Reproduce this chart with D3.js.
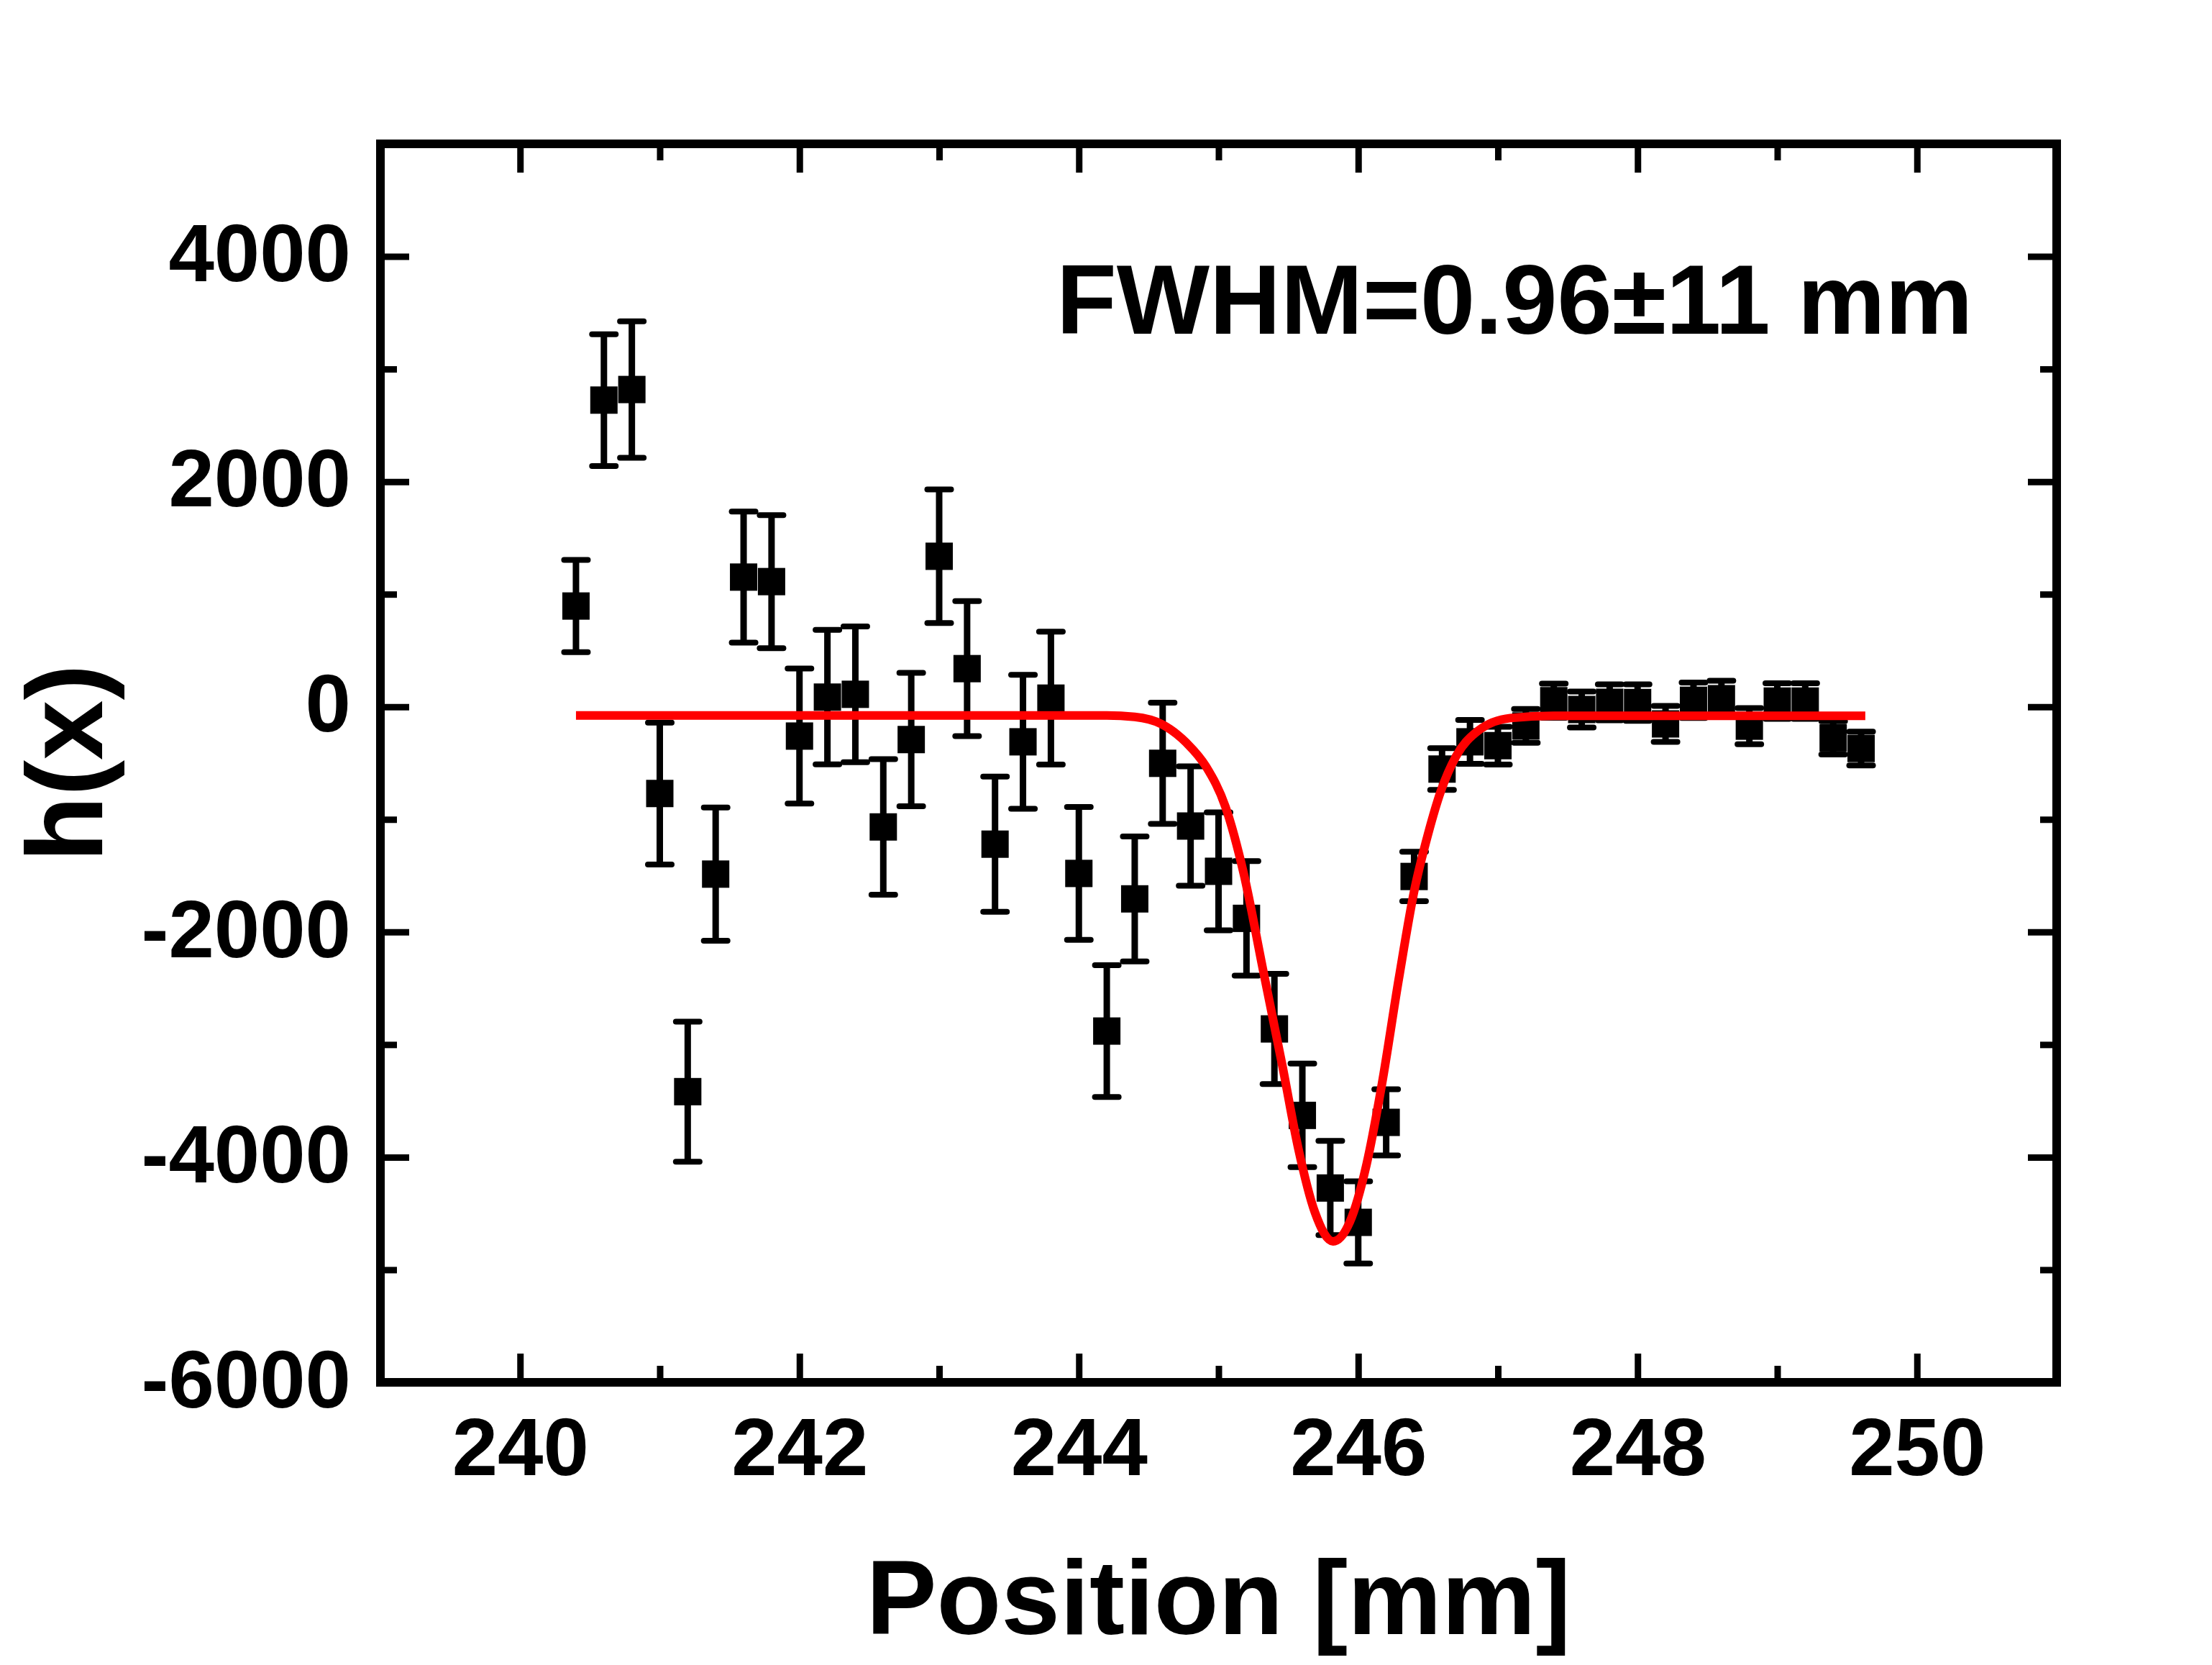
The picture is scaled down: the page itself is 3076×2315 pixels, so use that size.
<!DOCTYPE html>
<html>
<head>
<meta charset="utf-8">
<script src="https://cdn.jsdelivr.net/npm/d3@7"></script>
<style>
  html, body { margin: 0; padding: 0; background: #fff; }
  svg text { font-family: "Liberation Sans", Arial, sans-serif; font-weight: bold; fill: #000; }
</style>
</head>
<body>
<svg id="chart" width="3076" height="2315"></svg>
<script>
// measured points (position in mm, h(x), error)
const positions = [240.4, 240.6, 240.8, 241.0, 241.2, 241.4, 241.6, 241.8, 242.0, 242.2,
  242.4, 242.6, 242.8, 243.0, 243.2, 243.4, 243.6, 243.8, 244.0, 244.2,
  244.4, 244.6, 244.8, 245.0, 245.2, 245.4, 245.6, 245.8, 246.0, 246.2,
  246.4, 246.6, 246.8, 247.0, 247.2, 247.4, 247.6, 247.8, 248.0, 248.2,
  248.4, 248.6, 248.8, 249.0, 249.2, 249.4, 249.6];
const hValues = [895, 2724, 2818, -770, -3418, -1486, 1152, 1112, -260, 86,
  111, -1067, -291, 1337, 339, -1220, -311, 77, -1480, -2880,
  -1706, -502, -1059, -1461, -1879, -2861, -3629, -4274, -4579, -3691,
  -1507, -553, -311, -345, -170, 54, -24, 40, 38, -152,
  58, 72, -172, 51, 51, -276, -370];
const hErrors = [410, 585, 606, 630, 622, 592, 582, 591, 600, 597,
  603, 602, 592, 593, 600, 600, 595, 590, 590, 585,
  555, 538, 530, 524, 508, 490, 460, 418, 365, 294,
  220, 185, 195, 168, 150, 152, 160, 160, 162, 160,
  157, 160, 160, 158, 158, 148, 150];

// fitted curve
const fitX = [240.4, 244.2, 244.4, 244.59, 244.77, 244.91, 245.05, 245.18, 245.32, 245.46,
  245.57, 245.69, 245.82, 245.94, 246.06, 246.17, 246.29, 246.40, 246.50, 246.59,
  246.70, 246.86, 247.09, 247.4, 249.63];
const fitY = [-77, -77, -90, -153, -320, -530, -890, -1480, -2345, -3207,
  -3917, -4490, -4748, -4575, -4062, -3348, -2420, -1640, -1130, -754,
  -440, -211, -100, -80, -80];

const xMajor = [240, 242, 244, 246, 248, 250];
const xMinor = [241, 243, 245, 247, 249];
const yMajor = [-6000, -4000, -2000, 0, 2000, 4000];
const yMinor = [-5000, -3000, -1000, 1000, 3000];

const svg = d3.select("#chart");
const margin = { left: 529, right: 216, top: 200, bottom: 393 };
const W = +svg.attr("width"), H = +svg.attr("height");
const x0 = margin.left, x1 = W - margin.right;
const y0 = margin.top, y1 = H - margin.bottom;

const x = d3.scaleLinear().domain([239, 251]).range([x0, x1]);
const y = d3.scaleLinear().domain([-6000, 5000]).range([y1, y0]);

svg.append("rect").attr("width", W).attr("height", H).attr("fill", "#fff");

const fontTick = 114;

// axes: ticks point inward on all four sides
function styleAxis(g) {
  g.select(".domain").remove();
  g.selectAll(".tick line").attr("stroke", "#000").attr("stroke-width", 9);
  g.selectAll(".tick text").attr("font-size", fontTick).attr("fill", "#000")
    .attr("font-family", "Liberation Sans, Arial, sans-serif").attr("font-weight", "bold");
}

svg.append("g").attr("transform", `translate(0,${y1})`)
  .call(d3.axisBottom(x).tickValues(xMajor).tickSize(-40).tickPadding(48).tickFormat(d3.format("d")))
  .call(styleAxis);
svg.append("g").attr("transform", `translate(0,${y1})`)
  .call(d3.axisBottom(x).tickValues(xMinor).tickSize(-23).tickFormat(""))
  .call(styleAxis);
svg.append("g").attr("transform", `translate(0,${y0})`)
  .call(d3.axisTop(x).tickValues(xMajor).tickSize(-40).tickFormat(""))
  .call(styleAxis);
svg.append("g").attr("transform", `translate(0,${y0})`)
  .call(d3.axisTop(x).tickValues(xMinor).tickSize(-23).tickFormat(""))
  .call(styleAxis);

svg.append("g").attr("transform", `translate(${x0},0)`)
  .call(d3.axisLeft(y).tickValues(yMajor).tickSize(-40).tickPadding(41).tickFormat(d => String(d)))
  .call(styleAxis);
svg.append("g").attr("transform", `translate(${x0},0)`)
  .call(d3.axisLeft(y).tickValues(yMinor).tickSize(-23).tickFormat(""))
  .call(styleAxis);
svg.append("g").attr("transform", `translate(${x1},0)`)
  .call(d3.axisRight(y).tickValues(yMajor).tickSize(-40).tickFormat(""))
  .call(styleAxis);
svg.append("g").attr("transform", `translate(${x1},0)`)
  .call(d3.axisRight(y).tickValues(yMinor).tickSize(-23).tickFormat(""))
  .call(styleAxis);

// nudge y tick labels to sit like the original
svg.selectAll("g text").filter(function () { return this.getAttribute("dy") === "0.32em"; })
  .attr("dy", "0.30em");

// error bars
const pts = positions.map((p, i) => ({ p, v: hValues[i], e: hErrors[i] }));
const bars = svg.append("g").attr("stroke", "#000").attr("fill", "none");
bars.selectAll("line.stem").data(pts).join("line").attr("class", "stem")
  .attr("x1", d => x(d.p)).attr("x2", d => x(d.p))
  .attr("y1", d => y(d.v + d.e)).attr("y2", d => y(d.v - d.e))
  .attr("stroke-width", 9);
bars.selectAll("line.capTop").data(pts).join("line").attr("class", "capTop")
  .attr("x1", d => x(d.p) - 16.5).attr("x2", d => x(d.p) + 16.5)
  .attr("y1", d => y(d.v + d.e)).attr("y2", d => y(d.v + d.e))
  .attr("stroke-width", 8).attr("stroke-linecap", "round");
bars.selectAll("line.capBot").data(pts).join("line").attr("class", "capBot")
  .attr("x1", d => x(d.p) - 16.5).attr("x2", d => x(d.p) + 16.5)
  .attr("y1", d => y(d.v - d.e)).attr("y2", d => y(d.v - d.e))
  .attr("stroke-width", 8).attr("stroke-linecap", "round");

// square markers
const sz = 38;
svg.append("g").selectAll("rect").data(pts).join("rect")
  .attr("x", d => x(d.p) - sz / 2).attr("y", d => y(d.v) - sz / 2)
  .attr("width", sz).attr("height", sz).attr("fill", "#000");

// fit line
const line = d3.line().x((d, i) => x(fitX[i])).y(d => y(d)).curve(d3.curveMonotoneX);
svg.append("path").datum(fitY).attr("d", line)
  .attr("fill", "none").attr("stroke", "#ff0000").attr("stroke-width", 12)
  .attr("stroke-linejoin", "round");

// frame
svg.append("rect").attr("x", x0).attr("y", y0).attr("width", x1 - x0).attr("height", y1 - y0)
  .attr("fill", "none").attr("stroke", "#000").attr("stroke-width", 12);

// titles
svg.append("text").attr("x", (x0 + x1) / 2).attr("y", 2272)
  .attr("text-anchor", "middle").attr("font-size", 147).text("Position [mm]");
svg.append("text").attr("transform", `translate(142,${(y0 + y1) / 2}) rotate(-90)`)
  .attr("text-anchor", "middle").attr("font-size", 150).text("h(x)");
svg.append("text").attr("x", 1469).attr("y", 464)
  .attr("font-size", 137).text("FWHM=0.96\u00B111 mm");
</script>
</body>
</html>
